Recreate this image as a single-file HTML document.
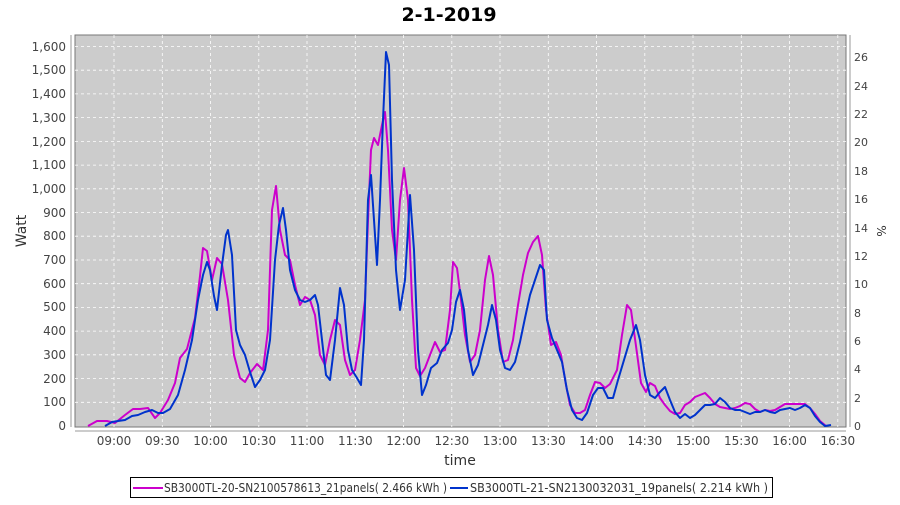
<!DOCTYPE html><html><head><style>body{margin:0;background:#fff}</style></head><body>
<svg width="900" height="500" xmlns="http://www.w3.org/2000/svg" font-family="DejaVu Sans, sans-serif">
<rect width="900" height="500" fill="#fff"/>
<text x="449" y="21" text-anchor="middle" font-size="19" font-weight="bold" fill="#000">2-1-2019</text>
<rect x="75" y="35" width="771" height="392" fill="#cccccc" stroke="#777" stroke-width="1"/>
<g stroke="#fff" stroke-dasharray="3,3" stroke-width="0.8">
<line x1="75" x2="846" y1="402.3" y2="402.3"/><line x1="75" x2="846" y1="378.6" y2="378.6"/><line x1="75" x2="846" y1="354.8" y2="354.8"/><line x1="75" x2="846" y1="331.1" y2="331.1"/><line x1="75" x2="846" y1="307.4" y2="307.4"/><line x1="75" x2="846" y1="283.7" y2="283.7"/><line x1="75" x2="846" y1="260" y2="260"/><line x1="75" x2="846" y1="236.2" y2="236.2"/><line x1="75" x2="846" y1="212.5" y2="212.5"/><line x1="75" x2="846" y1="188.8" y2="188.8"/><line x1="75" x2="846" y1="165.1" y2="165.1"/><line x1="75" x2="846" y1="141.4" y2="141.4"/><line x1="75" x2="846" y1="117.6" y2="117.6"/><line x1="75" x2="846" y1="93.9" y2="93.9"/><line x1="75" x2="846" y1="70.2" y2="70.2"/><line x1="75" x2="846" y1="46.5" y2="46.5"/>
<line y1="35" y2="427" x1="114" x2="114"/><line y1="35" y2="427" x1="162.3" x2="162.3"/><line y1="35" y2="427" x1="210.5" x2="210.5"/><line y1="35" y2="427" x1="258.8" x2="258.8"/><line y1="35" y2="427" x1="307" x2="307"/><line y1="35" y2="427" x1="355.3" x2="355.3"/><line y1="35" y2="427" x1="403.6" x2="403.6"/><line y1="35" y2="427" x1="451.8" x2="451.8"/><line y1="35" y2="427" x1="500" x2="500"/><line y1="35" y2="427" x1="548.3" x2="548.3"/><line y1="35" y2="427" x1="596.6" x2="596.6"/><line y1="35" y2="427" x1="644.8" x2="644.8"/><line y1="35" y2="427" x1="693" x2="693"/><line y1="35" y2="427" x1="741.3" x2="741.3"/><line y1="35" y2="427" x1="789.6" x2="789.6"/><line y1="35" y2="427" x1="837.8" x2="837.8"/>
</g>
<g stroke="#999" stroke-width="1">
<line x1="71" x2="71" y1="35" y2="427"/><line x1="75" x2="846" y1="431" y2="431"/><line x1="850" x2="850" y1="35" y2="427"/>
</g>
<g font-size="12" fill="#444" text-anchor="end">
<text x="66" y="430">0</text><text x="66" y="406">100</text><text x="66" y="383">200</text><text x="66" y="359">300</text><text x="66" y="335">400</text><text x="66" y="311">500</text><text x="66" y="288">600</text><text x="66" y="264">700</text><text x="66" y="240">800</text><text x="66" y="217">900</text><text x="66" y="193">1,000</text><text x="66" y="169">1,100</text><text x="66" y="146">1,200</text><text x="66" y="122">1,300</text><text x="66" y="98">1,400</text><text x="66" y="74">1,500</text><text x="66" y="51">1,600</text>
</g>
<g font-size="11" fill="#444">
<text x="854" y="430">0</text><text x="854" y="402">2</text><text x="854" y="373">4</text><text x="854" y="345">6</text><text x="854" y="317">8</text><text x="854" y="288">10</text><text x="854" y="260">12</text><text x="854" y="232">14</text><text x="854" y="203">16</text><text x="854" y="175">18</text><text x="854" y="146">20</text><text x="854" y="118">22</text><text x="854" y="90">24</text><text x="854" y="61">26</text>
</g>
<g font-size="12" fill="#444" text-anchor="middle">
<text x="114" y="445">09:00</text><text x="162.3" y="445">09:30</text><text x="210.5" y="445">10:00</text><text x="258.8" y="445">10:30</text><text x="307" y="445">11:00</text><text x="355.3" y="445">11:30</text><text x="403.6" y="445">12:00</text><text x="451.8" y="445">12:30</text><text x="500" y="445">13:00</text><text x="548.3" y="445">13:30</text><text x="596.6" y="445">14:00</text><text x="644.8" y="445">14:30</text><text x="693" y="445">15:00</text><text x="741.3" y="445">15:30</text><text x="789.6" y="445">16:00</text><text x="837.8" y="445">16:30</text>
</g>
<text x="460" y="465" text-anchor="middle" font-size="14" fill="#333">time</text>
<text transform="translate(26,231) rotate(-90)" text-anchor="middle" font-size="14" fill="#333">Watt</text>
<text transform="translate(877,231) rotate(90)" text-anchor="middle" font-size="12" fill="#333">%</text>
<polyline fill="none" stroke="#cc00cc" stroke-width="2" stroke-linejoin="round" points="88,426 97,421 107,421 115,423 125,415 133,409 140,409 148,408 155,418 160,413 168,400 175,383 180,358 187,349 195,318 200,276 203,248 207,251 212,280 217,258 222,264 228,300 234,355 240,378 245,382 250,373 257,364 263,370 268,330 272,210 276,186 280,230 285,255 290,260 295,285 300,305 305,297 310,300 315,315 320,355 325,365 330,340 335,320 340,325 345,360 350,375 355,370 360,340 365,300 368,220 371,150 374,138 378,145 382,125 385,112 388,150 392,230 396,260 400,200 404,168 408,200 412,300 416,368 420,376 425,368 430,355 435,342 440,352 445,350 450,310 453,262 457,268 461,300 465,335 470,362 475,355 480,330 485,280 489,256 493,275 498,330 503,362 508,360 513,340 518,305 523,275 528,253 533,242 538,236 542,255 546,310 551,345 556,342 561,355 566,385 570,405 575,413 580,413 585,410 590,395 595,382 600,383 605,388 610,384 617,370 622,335 627,305 631,310 636,346 641,383 646,392 650,383 655,386 660,398 665,405 670,411 675,414 680,413 685,405 690,402 695,397 700,395 705,393 710,398 715,404 720,407 725,408 730,409 735,408 740,406 745,403 750,404 755,409 760,412 765,410 770,411 775,410 780,407 785,404 790,404 795,404 800,404 805,404 810,408 815,414 820,421 826,426"/>
<polyline fill="none" stroke="#0033cc" stroke-width="2" stroke-linejoin="round" points="105,426 112,422 118,421 125,420 132,416 138,415 145,412 152,410 158,413 163,413 170,409 178,395 185,370 192,340 198,300 203,275 207,262 210,270 214,296 217,310 222,265 226,235 228,230 232,255 236,330 240,345 245,355 250,372 255,387 260,380 265,370 270,340 275,260 279,225 283,208 286,230 290,270 295,290 300,300 305,302 310,300 315,295 318,305 322,340 326,375 330,380 335,340 340,288 344,305 348,350 352,370 357,378 361,385 364,340 368,200 371,175 374,220 377,265 380,200 383,120 386,52 389,65 392,180 396,270 400,310 405,280 410,195 414,250 418,350 422,395 426,385 431,368 437,363 442,350 448,343 452,330 456,302 460,290 464,310 468,350 473,375 478,365 483,345 488,325 492,305 496,320 500,350 505,368 510,370 515,362 520,342 525,318 530,295 535,280 540,265 544,270 547,320 552,338 557,350 562,362 567,390 572,410 577,418 582,420 587,413 593,395 598,388 603,388 608,398 613,398 618,380 624,360 630,340 636,325 640,340 645,375 650,395 655,398 660,392 665,387 670,400 675,412 680,418 685,414 690,418 695,415 700,410 705,405 710,405 715,404 720,398 725,402 730,408 735,410 740,410 745,412 750,414 755,412 760,412 765,410 770,412 775,413 780,410 785,409 790,408 795,410 800,408 805,405 810,408 815,416 820,422 825,426 831,425"/>
<rect x="130.5" y="477.5" width="642" height="20" fill="#fff" stroke="#000"/>
<line x1="133" x2="163" y1="488" y2="488" stroke="#cc00cc" stroke-width="2"/>
<text x="164" y="492" font-size="12" fill="#333" textLength="283" lengthAdjust="spacingAndGlyphs">SB3000TL-20-SN2100578613_21panels( 2.466 kWh )</text>
<line x1="450" x2="468" y1="488" y2="488" stroke="#0033cc" stroke-width="2"/>
<text x="470" y="492" font-size="12" fill="#333" textLength="298" lengthAdjust="spacingAndGlyphs">SB3000TL-21-SN2130032031_19panels( 2.214 kWh )</text>
</svg>
</body></html>
